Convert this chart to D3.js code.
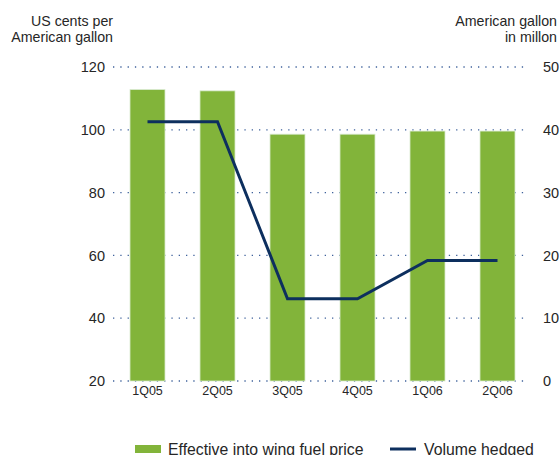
<!DOCTYPE html>
<html>
<head>
<meta charset="utf-8">
<script src="https://cdn.jsdelivr.net/npm/d3@7"></script>
<style>
  html, body { margin: 0; padding: 0; background: #fff; }
  svg { display: block; font-family: "Liberation Sans", Arial, sans-serif; }
</style>
</head>
<body>
<svg id="chart" width="560" height="455"></svg>
<script>
// Quarterly fuel price and hedged volume
const quarters = ["1Q05", "2Q05", "3Q05", "4Q05", "1Q06", "2Q06"];
const fuelPrice = [112.8, 112.4, 98.6, 98.6, 99.6, 99.6];     // US cents per American gallon
const volumeHedged = [41.3, 41.3, 13.1, 13.1, 19.2, 19.2];     // American gallon in millon
const leftTicks = [20, 40, 60, 80, 100, 120];
const rightTicks = [0, 10, 20, 30, 40, 50];

const svg = d3.select("#chart");
const textColor = "#262626";
const barColor = "#82b43a";
const lineColor = "#0d2f5e";
const gridColor = "#3f629c";
const font = "Liberation Sans, Arial, sans-serif";

const plotTop = 67, plotBottom = 381;
const yLeft = d3.scaleLinear().domain([20, 120]).range([plotBottom, plotTop]);
const yRight = d3.scaleLinear().domain([0, 50]).range([plotBottom, plotTop]);
const x = d3.scaleBand().domain(quarters).range([112.5, 532.5]).paddingInner(0.5).paddingOuter(0.25);

// dotted gridlines
svg.append("g").selectAll("line").data(leftTicks).join("line")
  .attr("x1", 113).attr("x2", 529)
  .attr("y1", d => yLeft(d)).attr("y2", d => yLeft(d))
  .attr("stroke", gridColor).attr("stroke-width", 1.3)
  .attr("stroke-dasharray", "1.3,6");

// left axis
const leftAxis = d3.axisLeft(yLeft).tickValues(leftTicks).tickSize(0).tickPadding(0);
svg.append("g").attr("transform", "translate(105,0)").call(leftAxis)
  .call(g => g.select(".domain").remove())
  .call(g => g.selectAll("text").attr("fill", textColor).attr("font-size", 14.5)
    .attr("font-family", font));

// right axis
const rightAxis = d3.axisRight(yRight).tickValues(rightTicks).tickSize(0).tickPadding(0);
svg.append("g").attr("transform", "translate(543,0)").call(rightAxis)
  .call(g => g.select(".domain").remove())
  .call(g => g.selectAll("text").attr("fill", textColor).attr("font-size", 14.5)
    .attr("font-family", font));

// bars
svg.append("g").selectAll("rect").data(quarters).join("rect")
  .attr("x", d => x(d))
  .attr("width", x.bandwidth())
  .attr("y", (d, i) => yLeft(fuelPrice[i]))
  .attr("height", (d, i) => yLeft(20) - yLeft(fuelPrice[i]))
  .attr("fill", barColor)
  .attr("stroke", "#d9ead0").attr("stroke-width", 0.8);

// category labels
const xAxis = d3.axisBottom(x).tickSize(0).tickPadding(0);
svg.append("g").attr("transform", "translate(0,386)").call(xAxis)
  .call(g => g.select(".domain").remove())
  .call(g => g.selectAll("text").attr("fill", textColor).attr("font-size", 12.5)
    .attr("font-family", font));

// hedged volume line
const line = d3.line()
  .x((d, i) => x(quarters[i]) + x.bandwidth() / 2)
  .y(d => yRight(d));
svg.append("path").datum(volumeHedged)
  .attr("d", line)
  .attr("fill", "none")
  .attr("stroke", lineColor)
  .attr("stroke-width", 3)
  .attr("stroke-linejoin", "miter");

// axis titles
const titleL = svg.append("text").attr("text-anchor", "end").attr("fill", textColor).attr("font-size", 14.2);
titleL.append("tspan").attr("x", 113).attr("y", 26).text("US cents per");
titleL.append("tspan").attr("x", 113).attr("y", 42).text("American gallon");
const titleR = svg.append("text").attr("text-anchor", "end").attr("fill", textColor).attr("font-size", 14.2);
titleR.append("tspan").attr("x", 557).attr("y", 26).text("American gallon");
titleR.append("tspan").attr("x", 557).attr("y", 42).text("in millon");

// legend
const legend = svg.append("g");
legend.append("rect").attr("x", 135).attr("y", 445).attr("width", 26).attr("height", 8).attr("fill", barColor);
legend.append("text").attr("x", 168).attr("y", 455).attr("fill", textColor).attr("font-size", 15.8)
  .text("Effective into wing fuel price");
legend.append("line").attr("x1", 390).attr("x2", 416).attr("y1", 449).attr("y2", 449)
  .attr("stroke", lineColor).attr("stroke-width", 3);
legend.append("text").attr("x", 424).attr("y", 455).attr("fill", textColor).attr("font-size", 15.8)
  .text("Volume hedged");
</script>
</body>
</html>
